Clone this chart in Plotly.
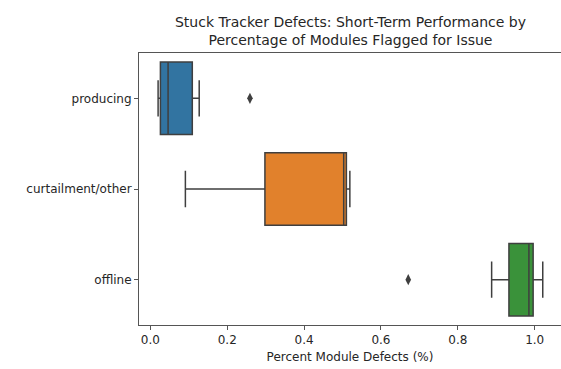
import plotly.graph_objects as go

categories = ["producing", "curtailment/other", "offline"]
colors = ["#3274a1", "#e1812c", "#3a923a"]
lower_whisker = [0.020, 0.091, 0.888]
q1_vals = [0.026, 0.298, 0.933]
median_vals = [0.046, 0.503, 0.985]
q3_vals = [0.109, 0.510, 0.996]
upper_whisker = [0.127, 0.519, 1.021]
outlier_cats = ["producing", "offline"]
outlier_vals = [0.259, 0.671]

line_col = "#3f3f3f"
fig = go.Figure()
for i, c in enumerate(categories):
    fig.add_trace(go.Box(
        y=[c], q1=[q1_vals[i]], median=[median_vals[i]], q3=[q3_vals[i]],
        lowerfence=[lower_whisker[i]], upperfence=[upper_whisker[i]],
        orientation="h", fillcolor=colors[i],
        line=dict(color=line_col, width=1.5), whiskerwidth=0.5,
        width=0.8, showlegend=False, boxpoints=False,
    ))
fig.add_trace(go.Scatter(
    x=outlier_vals, y=outlier_cats, mode="markers",
    marker=dict(symbol="diamond-tall", size=8, color=line_col,
                line=dict(width=0)),
    showlegend=False,
))

fig.update_layout(
    width=561, height=369,
    margin=dict(l=139, r=0, t=53, b=44),
    paper_bgcolor="white", plot_bgcolor="white",
    boxmode="overlay",
    font=dict(family="DejaVu Sans", size=12, color="#262626"),
    title=dict(
        text="Stuck Tracker Defects: Short-Term Performance by<br>Percentage of Modules Flagged for Issue",
        x=(139 + 562) / 2 / 561, xanchor="center",
        y=1 - 27 / 369, yanchor="top",
        font=dict(size=14, color="#262626"),
    ),
    xaxis=dict(
        range=[-0.0297, 1.0685],
        tickvals=[0, 0.2, 0.4, 0.6, 0.8, 1.0],
        ticktext=["0.0", "0.2", "0.4", "0.6", "0.8", "1.0"],
        showgrid=False, zeroline=False,
        showline=True, linecolor="#555555", linewidth=1, mirror=True,
        ticks="outside", ticklen=4, tickcolor="#555555",
        title=dict(text="Percent Module Defects (%)", standoff=6,
                   font=dict(size=12)),
    ),
    yaxis=dict(
        type="category", categoryorder="array", categoryarray=categories,
        range=[2.5, -0.5],
        showgrid=False, zeroline=False,
        showline=True, linecolor="#555555", linewidth=1,
        ticks="outside", ticklen=4, tickcolor="#555555",
    ),
)
fig.write_html("out.html")
